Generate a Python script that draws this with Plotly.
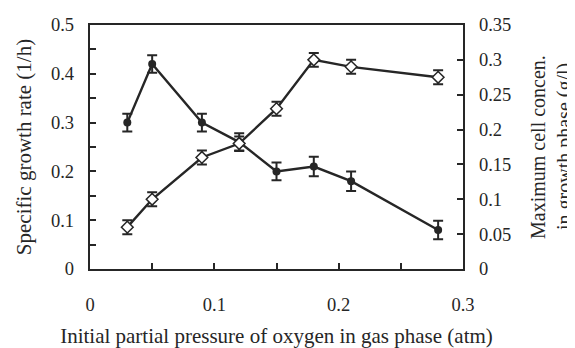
import plotly.graph_objects as go

x_pressure = [0.03, 0.05, 0.09, 0.12, 0.15, 0.18, 0.21, 0.28]
growth_rate = [0.30, 0.42, 0.30, 0.26, 0.20, 0.21, 0.18, 0.08]
growth_rate_err = [0.018, 0.018, 0.018, 0.018, 0.018, 0.02, 0.02, 0.019]
max_cell = [0.06, 0.10, 0.16, 0.18, 0.23, 0.30, 0.29, 0.275]
max_cell_err = [0.01, 0.01, 0.01, 0.01, 0.01, 0.01, 0.01, 0.01]

x_ticks = [0, 0.1, 0.2, 0.3]
x_ticklabels = ["0", "0.1", "0.2", "0.3"]
y_ticks = [0, 0.1, 0.2, 0.3, 0.4, 0.5]
y_ticklabels = ["0", "0.1", "0.2", "0.3", "0.4", "0.5"]
y2_ticks = [0, 0.05, 0.1, 0.15, 0.2, 0.25, 0.3, 0.35]
y2_ticklabels = ["0", "0.05", "0.1", "0.15", "0.2", "0.25", "0.3", "0.35"]
y2_title_lines = ["Maximum cell concen.", "in growth phase (g/l)"]

INK = "#262626"
FONT = "Liberation Serif"
TICK_SIZE = 18.5
TITLE_SIZE = 21

fig = go.Figure()
fig.add_trace(go.Scatter(
    x=x_pressure, y=growth_rate, yaxis="y", mode="lines+markers",
    line=dict(color=INK, width=2.4),
    marker=dict(symbol="circle", size=8, color=INK),
    error_y=dict(type="data", array=growth_rate_err, color=INK, thickness=2, width=5),
    showlegend=False,
))
fig.add_trace(go.Scatter(
    x=x_pressure, y=max_cell, yaxis="y2", mode="lines+markers",
    line=dict(color=INK, width=2.4),
    marker=dict(symbol="diamond", size=9, color="white", line=dict(color=INK, width=1.5)),
    error_y=dict(type="data", array=max_cell_err, color=INK, thickness=2, width=5),
    showlegend=False,
))

annotations = []
for line_text, shift in zip(y2_title_lines, [75, 101]):
    annotations.append(dict(
        text=line_text, xref="paper", yref="paper", x=1, y=0.5,
        xanchor="center", yanchor="middle", xshift=shift,
        textangle=-90, showarrow=False,
        font=dict(family=FONT, size=TITLE_SIZE - 1, color=INK),
    ))

# page body has an 8px margin, so the figure is drawn 8px smaller and offset
fig.update_layout(
    width=567, height=340,
    margin=dict(l=82, r=112, t=17, b=79),
    paper_bgcolor="white", plot_bgcolor="white",
    font=dict(family=FONT, size=TICK_SIZE, color=INK),
    xaxis=dict(
        range=[0, 0.3], tickvals=x_ticks, ticktext=x_ticklabels,
        ticks="inside", ticklen=6, tickwidth=1.5, tickcolor=INK,
        minor=dict(dtick=0.05, tick0=0, ticks="inside", ticklen=6, tickwidth=1.5, tickcolor=INK),
        showline=True, linecolor=INK, linewidth=2.4, mirror=True,
        showgrid=False, zeroline=False, automargin=False,
        ticklabelstandoff=18,
        title=dict(text="Initial partial pressure of oxygen in gas phase (atm)", standoff=18,
                   font=dict(size=TITLE_SIZE)),
    ),
    yaxis=dict(
        range=[0, 0.5], tickvals=y_ticks, ticktext=y_ticklabels,
        ticks="inside", ticklen=6, tickwidth=1.5, tickcolor=INK,
        minor=dict(dtick=0.05, tick0=0, ticks="inside", ticklen=6, tickwidth=1.5, tickcolor=INK),
        showline=True, linecolor=INK, linewidth=2.4,
        showgrid=False, zeroline=False, ticklabelstandoff=10, automargin=False,
        title=dict(text="Specific growth rate (1/h)", standoff=14, font=dict(size=TITLE_SIZE)),
    ),
    yaxis2=dict(
        range=[0, 0.35], tickvals=y2_ticks, ticktext=y2_ticklabels,
        overlaying="y", side="right",
        ticks="inside", ticklen=6, tickwidth=1.5, tickcolor=INK,
        showline=True, linecolor=INK, linewidth=2.4,
        showgrid=False, zeroline=False, ticklabelstandoff=10, automargin=False,
    ),
    annotations=annotations,
)

fig.write_html("out.html")
